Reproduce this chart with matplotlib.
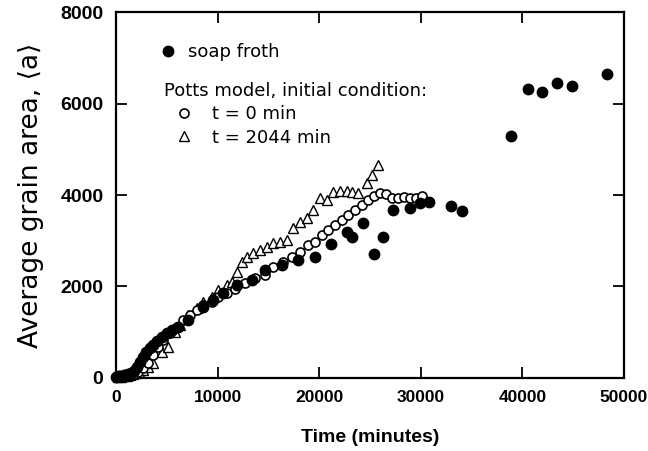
import numpy as np
import matplotlib
matplotlib.use('Agg')
import matplotlib.pyplot as plt
from matplotlib.lines import Line2D

# soap froth experiment
froth_t = [0, 200, 400, 600, 800, 1000, 1200, 1500, 1800, 2100, 2400, 2700, 3000, 3300, 3670,
           4000, 4500, 4990, 5500, 6130, 7120, 8590, 9500, 10560, 11880, 13350, 14660, 16310,
           17940, 19590, 21200, 22700, 23200, 24340, 25390, 26310, 27300, 28930, 29900, 30840,
           32970, 34080, 38850, 40580, 41960, 43370, 44910, 48300]
froth_a = [30, 40, 45, 50, 60, 70, 80, 100, 150, 250, 350, 466, 560, 650, 721,
           800, 900, 977, 1050, 1120, 1268, 1560, 1700, 1851, 2033, 2142, 2360, 2470,
           2580, 2652, 2930, 3200, 3075, 3395, 2710, 3088, 3680, 3710, 3830, 3840,
           3760, 3650, 5300, 6310, 6258, 6448, 6390, 6638]

# Potts model, t = 0 min
potts0_t = [200, 600, 1000, 1400, 1800, 2190, 2690, 3180, 3670, 4160, 4660, 5310, 5970, 6620,
            7280, 7940, 8590, 9420, 10070, 10890, 11710, 12700, 13680, 14660, 15480, 16470,
            17290, 18110, 18930, 19590, 20240, 20900, 21560, 22210, 22870, 23520, 24180,
            24830, 25390, 25980, 26570, 27130, 27720, 28310, 28900, 29490, 30080]
potts0_a = [20, 30, 40, 60, 90, 138, 212, 321, 503, 684, 830, 977, 1121, 1268,
            1377, 1486, 1596, 1668, 1777, 1851, 1939, 2070, 2180, 2251, 2433, 2542,
            2652, 2761, 2907, 2980, 3126, 3235, 3344, 3453, 3563, 3672, 3781,
            3891, 3978, 4036, 4015, 3928, 3928, 3950, 3930, 3930, 3990]

# Potts model, t = 2044 min
potts2044_t = [200, 500, 800, 1100, 1400, 1700, 2000, 2300, 2690, 3180, 3670, 4500, 5150, 5810,
               6300, 7120, 7940, 8590, 9420, 10070, 10890, 11380, 11880, 12370, 12860, 13520,
               14170, 14830, 15480, 16140, 16800, 17450, 18110, 18770, 19420, 20080, 20730,
               21390, 22050, 22700, 23200, 23850, 24670, 25160, 25820]
potts2044_a = [20, 30, 40, 50, 60, 80, 110, 140, 175, 247, 321, 575, 684, 1012,
               1158, 1377, 1523, 1668, 1777, 1923, 2033, 2105, 2324, 2542, 2652, 2726,
               2798, 2870, 2944, 2980, 3016, 3272, 3416, 3490, 3672, 3928, 3890,
               4060, 4080, 4080, 4070, 4050, 4255, 4437, 4656]

xticks = [0, 10000, 20000, 30000, 40000, 50000]
yticks = [0, 2000, 4000, 6000, 8000]

plt.rcParams['font.family'] = ['DejaVu Sans']
fig = plt.figure(figsize=(6.48, 4.51), dpi=100)
ax = fig.add_axes([0.179, 0.162, 0.784, 0.811])

ax.plot(potts2044_t, potts2044_a, linestyle='none', marker='^', ms=6.5, mfc='white',
        mec='black', mew=1.0, zorder=3, clip_on=False)
ax.plot(potts0_t, potts0_a, linestyle='none', marker='o', ms=6.5, mfc='white',
        mec='black', mew=1.2, zorder=4, clip_on=False)
ax.plot(froth_t, froth_a, linestyle='none', marker='o', ms=7.5, mfc='black',
        mec='black', zorder=5, clip_on=False)

ax.set_xlim(0, 50000)
ax.set_ylim(0, 8000)
ax.set_xticks(xticks)
ax.set_yticks(yticks)
ax.set_xticklabels([str(v) for v in xticks], fontsize=12.5, fontweight='bold', family='Liberation Sans')
ax.set_yticklabels([str(v) for v in yticks], fontsize=14, fontweight='bold', family='Liberation Sans')
ax.tick_params(direction='in', length=8, width=1.3, top=True, right=True, pad=9)
for s in ax.spines.values():
    s.set_linewidth(1.6)

ax.set_xlabel('Time (minutes)', fontsize=14, fontweight='bold', family='Liberation Sans', labelpad=17)
ax.set_ylabel('Average grain area, \u27e8a\u27e9', fontsize=19, labelpad=12)

h1 = [Line2D([], [], linestyle='none', marker='o', ms=7.5, mfc='black', mec='black')]
leg1 = ax.legend(h1, ['soap froth'], loc='upper left', bbox_to_anchor=(0.085, 0.915),
                 frameon=False, fontsize=13, handlelength=1.0, handletextpad=0.6,
                 borderaxespad=0, borderpad=0)
ax.add_artist(leg1)
h2 = [Line2D([], [], linestyle='none', marker='o', ms=6.5, mfc='white', mec='black', mew=1.2),
      Line2D([], [], linestyle='none', marker='^', ms=6.5, mfc='white', mec='black', mew=1.0)]
leg2 = ax.legend(h2, ['t = 0 min', 't = 2044 min'], loc='upper left', bbox_to_anchor=(0.094, 0.81),
                 frameon=False, fontsize=13, handlelength=2.2, handletextpad=0.5,
                 borderaxespad=0, borderpad=0, labelspacing=0.3,
                 title='Potts model, initial condition:', title_fontsize=13, alignment='left')

plt.savefig('out.png', dpi=100)
